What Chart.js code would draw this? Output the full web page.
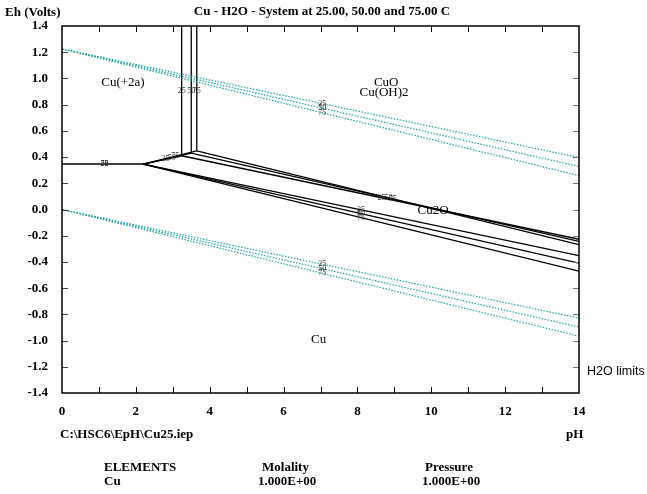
<!DOCTYPE html>
<html>
<head>
<meta charset="utf-8">
<script src="https://cdn.jsdelivr.net/npm/chart.js@4.4.0/dist/chart.umd.min.js"></script>
<style>
  body { margin: 0; background: #fff; }
  #wrap { width: 647px; height: 494px; }
</style>
</head>
<body>
<div id="wrap"><canvas id="chart" width="647" height="494"></canvas></div>
<script>
// temperatures (C) drawn in the diagram
const temps = ["25", "50", "75"];

// water stability limits (teal dotted)
const limitPH = [0, 14];
const o2LimitEh = [[1.225, 0.396], [1.225, 0.328], [1.225, 0.258]];
const h2LimitEh = [[0.0, -0.829], [0.0, -0.897], [0.0, -0.967]];

// Cu(+2a) / Cu, same at all three temperatures
const cuIonPH = [0, 2.2];
const cuIonEh = [0.347, 0.347];
// Cu(+2a) / Cu2O
const cuIonCu2oPH = [[2.2, 3.24], [2.2, 3.5], [2.2, 3.65]];
const cuIonCu2oEh = [[0.347, 0.41], [0.347, 0.43], [0.347, 0.447]];
// Cu(+2a) / CuO (vertical)
const cuIonCuoPH = [[3.24, 3.24], [3.5, 3.5], [3.65, 3.65]];
const cuIonCuoEh = [[0.41, 1.4], [0.43, 1.4], [0.447, 1.4]];
// CuO / Cu2O
const cuoCu2oPH = [[3.24, 14], [3.5, 14], [3.65, 14]];
const cuoCu2oEh = [[0.41, -0.227], [0.43, -0.243], [0.447, -0.268]];
// Cu2O / Cu
const cu2oCuPH = [[2.2, 14], [2.2, 14], [2.2, 14]];
const cu2oCuEh = [[0.347, -0.352], [0.347, -0.41], [0.347, -0.47]];

// axis ticks
const phTicks = [0, 2, 4, 6, 8, 10, 12, 14];
const ehTicks = [-1.4, -1.2, -1.0, -0.8, -0.6, -0.4, -0.2, 0.0, 0.2, 0.4, 0.6, 0.8, 1.0, 1.2, 1.4];

// region names [pH, Eh, text]
const regionLabels = [
    [1.65, 0.965, "Cu(+2a)"],
    [8.78, 0.97, "CuO"],
    [8.72, 0.89, "Cu(OH)2"],
    [10.05, -0.01, "Cu2O"],
    [6.95, -0.99, "Cu"]
];

const TEAL = "#1fa3a3";
const SERIF = '"Liberation Serif", "Times New Roman", serif';

function pts(xs, ys) {
    return xs.map(function (x, i) { return {x: x, y: ys[i]}; });
}

function ehAt(xs, ys, ph) {
    const t = (ph - xs[0]) / (xs[1] - xs[0]);
    return ys[0] + t * (ys[1] - ys[0]);
}

const datasets = [];
function addLine(xs, ys, color, dash) {
    datasets.push({
        data: pts(xs, ys),
        showLine: true,
        borderColor: color,
        borderWidth: dash ? 1.2 : 1.3,
        borderDash: dash || [],
        pointRadius: 0,
        fill: false,
    });
}

for (let i = 0; i < temps.length; i++) {
    addLine(limitPH, o2LimitEh[i], TEAL, [1.5, 1.5]);
    addLine(limitPH, h2LimitEh[i], TEAL, [1.5, 1.5]);
}
addLine(cuIonPH, cuIonEh, "#000");
for (let i = 0; i < temps.length; i++) {
    addLine(cuIonCu2oPH[i], cuIonCu2oEh[i], "#000");
    addLine(cuIonCuoPH[i], cuIonCuoEh[i], "#000");
    addLine(cuoCu2oPH[i], cuoCu2oEh[i], "#000");
    addLine(cu2oCuPH[i], cu2oCuEh[i], "#000");
}

// frame, inward ticks and all the texts
const decorPlugin = {
    id: "decor",
    afterDraw: function (c) {
        const ctx = c.ctx;
        const xs = c.scales.x, ys = c.scales.y;
        const a = c.chartArea;
        ctx.save();

        // inward ticks
        ctx.lineWidth = 1;
        ctx.strokeStyle = "#000";
        for (let p = 1; p < 14; p++) {
            const px = Math.round(xs.getPixelForValue(p)) + 0.5;
            ctx.beginPath();
            ctx.moveTo(px, a.top); ctx.lineTo(px, a.top + 6);
            ctx.moveTo(px, a.bottom); ctx.lineTo(px, a.bottom - 6);
            ctx.stroke();
        }
        for (let k = 1; k < ehTicks.length - 1; k++) {
            const py = Math.round(ys.getPixelForValue(ehTicks[k])) + 0.5;
            ctx.strokeStyle = "#444";
            ctx.beginPath();
            ctx.moveTo(a.left, py); ctx.lineTo(a.left + 6, py);
            ctx.stroke();
            ctx.strokeStyle = "#777";
            ctx.beginPath();
            ctx.moveTo(a.right, py); ctx.lineTo(a.right - 6, py);
            ctx.stroke();
        }

        // frame
        ctx.lineWidth = 1.5;
        ctx.strokeStyle = "#000";
        ctx.strokeRect(a.left, a.top, a.right - a.left, a.bottom - a.top);

        // temperature tags on the lines
        ctx.font = "8px " + SERIF;
        ctx.fillStyle = "#333";
        ctx.textAlign = "center";
        ctx.textBaseline = "middle";
        function tag(ph, eh, txt) {
            ctx.fillText(txt, xs.getPixelForValue(ph), ys.getPixelForValue(eh));
        }
        for (let i = 0; i < temps.length; i++) {
            tag(7.05, ehAt(limitPH, o2LimitEh[i], 7.05), temps[i]);
            tag(7.05, ehAt(limitPH, h2LimitEh[i], 7.05), temps[i]);
            tag(8.1, ehAt(cu2oCuPH[i], cu2oCuEh[i], 8.1), temps[i]);
            const p1 = [8.65, 8.85, 8.95][i];
            tag(p1, ehAt(cuoCu2oPH[i], cuoCu2oEh[i], p1), temps[i]);
            const p2 = [2.8, 2.97, 3.07][i];
            tag(p2, ehAt(cuIonCu2oPH[i], cuIonCu2oEh[i], p2), temps[i]);
            tag(cuIonCuoPH[i][0], 0.905, temps[i]);
            tag(1.15, cuIonEh[0], temps[i]);
        }

        // region names
        ctx.fillStyle = "#000";
        ctx.font = "13px " + SERIF;
        regionLabels.forEach(function (r) {
            ctx.fillText(r[2], xs.getPixelForValue(r[0]), ys.getPixelForValue(r[1]));
        });

        // header and footer texts
        ctx.font = "bold 13px " + SERIF;
        ctx.textAlign = "center";
        ctx.fillText("Cu - H2O - System at 25.00, 50.00 and 75.00 C", 322, 12);
        ctx.textAlign = "left";
        ctx.fillText("Eh (Volts)", 5, 13);
        ctx.fillText("C:\\HSC6\\EpH\\Cu25.iep", 60, 435);
        ctx.fillText("pH", 566, 435);
        ctx.fillText("ELEMENTS", 104, 468);
        ctx.fillText("Molality", 262, 468);
        ctx.fillText("Pressure", 425, 468);
        ctx.fillText("Cu", 104, 482);
        ctx.fillText("1.000E+00", 258, 482);
        ctx.fillText("1.000E+00", 422, 482);

        ctx.font = '12.5px "Liberation Sans", Arial, sans-serif';
        ctx.fillText("H2O limits", 587, 372);
        ctx.restore();
    }
};

const chart = new Chart(document.getElementById("chart"), {
    type: "scatter",
    data: {datasets: datasets},
    options: {
        responsive: false,
        animation: false,
        layout: {padding: {top: 26, right: 68, left: 0, bottom: 0}},
        plugins: {legend: {display: false}, tooltip: {enabled: false}, title: {display: false}},
        scales: {
            x: {
                type: "linear",
                min: 0, max: 14,
                afterBuildTicks: function (s) { s.ticks = phTicks.map(function (v) { return {value: v}; }); },
                grid: {display: false, drawTicks: false},
                border: {display: false},
                ticks: {
                    color: "#000",
                    padding: 11,
                    maxRotation: 0,
                    font: {family: SERIF, size: 13, weight: "bold"},
                },
                afterFit: function (s) { s.height = 101; },
            },
            y: {
                type: "linear",
                min: -1.4, max: 1.4,
                afterBuildTicks: function (s) { s.ticks = ehTicks.map(function (v) { return {value: v}; }); },
                grid: {display: false, drawTicks: false},
                border: {display: false},
                ticks: {
                    color: "#000",
                    padding: 14,
                    font: {family: SERIF, size: 13, weight: "bold"},
                    callback: function (v) { return v.toFixed(1); },
                },
                afterFit: function (s) { s.width = 62; },
            },
        },
    },
    plugins: [decorPlugin],
});
</script>
</body>
</html>
